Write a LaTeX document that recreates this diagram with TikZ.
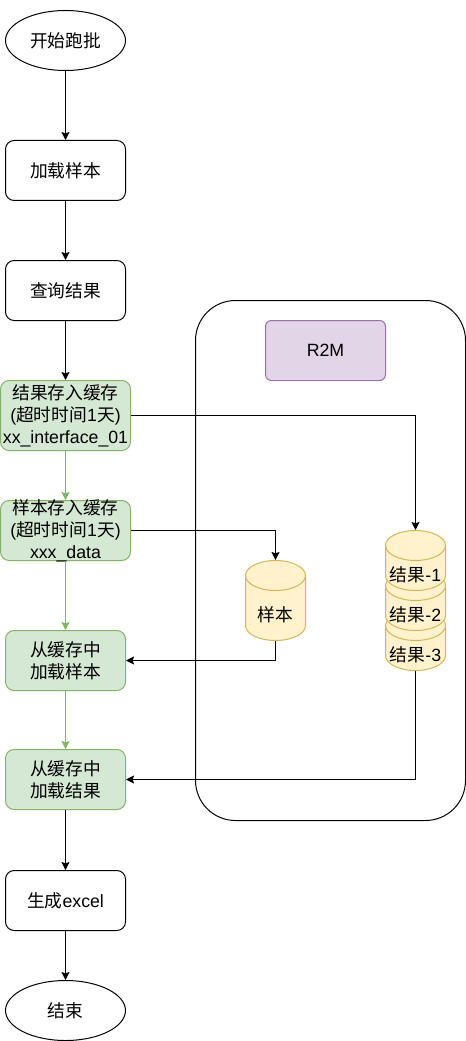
\documentclass[tikz,border=0pt]{standalone}
\usepackage{fontspec}
\usepackage{xcolor}
\usetikzlibrary{arrows.meta,shapes.geometric}
\setmainfont{Liberation Sans}
\newfontfamily\cjk{Noto Sans CJK SC}
\definecolor{greenfill}{HTML}{D5E8D4}
\definecolor{greenline}{HTML}{82B366}
\definecolor{yellowfill}{HTML}{FFF2CC}
\definecolor{yellowline}{HTML}{D6B656}
\definecolor{purplefill}{HTML}{E1D5E7}
\definecolor{purpleline}{HTML}{9673A6}
\tikzset{
  every node/.style={font=\fontsize{13.3}{16.5}\selectfont,align=center,inner sep=0pt},
  every label/.style={font=\fontsize{13.3}{16.5}\selectfont,align=center,inner sep=0pt},
  flowbox/.style={draw,fill=white,rounded corners=6.5pt,minimum width=90pt,minimum height=45pt},
  cachebox/.style={draw=greenline,fill=greenfill,rounded corners=6.5pt,minimum width=#1},
  terminal/.style={draw,fill=white,ellipse,minimum width=90pt,minimum height=45pt},
  store/.style={draw=yellowline,fill=yellowfill},
  conn/.style={-{Stealth[length=6pt,width=6pt,inset=1pt]}},
  conngreen/.style={conn,draw=greenline,fill=greenline}
}
% name, centre x, top y, bottom y, label
\newcommand{\storecyl}[5]{
\draw[store] (#2-30,#3+15) arc[start angle=180,end angle=360,x radius=30,y radius=15]
  -- (#2+30,#4-15) arc[start angle=0,end angle=180,x radius=30,y radius=15] -- cycle;
\draw[draw=yellowline] (#2-30,#3+15) arc[start angle=180,end angle=0,x radius=30,y radius=15];
\node[minimum width=45pt,minimum height={(#4-#3)*0.75pt}] (#1) at (#2,{(#3+#4)/2}) {};
\node (#1label) at (#2,{(#3+30+#4)/2-1}) {#5};
}
\begin{document}
\begin{tikzpicture}[x=0.75pt,y=-0.75pt,line width=0.75pt]
\useasboundingbox (0,0) rectangle (466,1041);
\node[draw,rounded corners=30pt,minimum width=202.5pt,minimum height=390pt] (pool) at (330.5,560.5) {};
\node[draw=purpleline,fill=purplefill,rounded corners=4.5pt,minimum width=90pt,minimum height=45pt] (r2m) at (325.5,350.5) {R2M};
\node[terminal] (start) at (65.5,40.5) {{\cjk 开始跑批}};
\node[flowbox] (load) at (65.5,170.5) {{\cjk 加载样本}};
\node[flowbox] (query) at (65.5,290.5) {{\cjk 查询结果}};
\node[cachebox=97.5pt,minimum height=52.5pt,label=center:{{\cjk 结果存入缓存}\\({\cjk 超时时间}1{\cjk 天})\\xx\_interface\_01}] (saveres) at (65.5,415.5) {};
\node[cachebox=97.5pt,minimum height=45pt,label=center:{{\cjk 样本存入缓存}\\({\cjk 超时时间}1{\cjk 天})\\xxx\_data}] (savesam) at (65.5,530.5) {};
\node[cachebox=90pt,minimum height=45pt] (readsam) at (65.5,660.5) {{\cjk 从缓存中}\\{\cjk 加载样本}};
\node[cachebox=90pt,minimum height=45pt] (readres) at (65.5,779.5) {{\cjk 从缓存中}\\{\cjk 加载结果}};
\node[flowbox] (excel) at (65.5,900.5) {{\cjk 生成}excel};
\node[terminal] (finish) at (65.5,1010.5) {{\cjk 结束}};
\storecyl{sample}{275.5}{560.5}{640.5}{{\cjk 样本}}
\storecyl{res3}{415.5}{610.5}{670.5}{{\cjk 结果}-3}
\storecyl{res2}{415.5}{570.5}{630.5}{{\cjk 结果}-2}
\storecyl{res1}{415.5}{530.5}{590.5}{{\cjk 结果}-1}
\draw[conn] (start) -- (load);
\draw[conn] (load) -- (query);
\draw[conn] (query) -- (saveres);
\draw[conngreen] (saveres) -- (savesam);
\draw[conngreen] (savesam) -- (readsam);
\draw[conngreen] (readsam) -- (readres);
\draw[conn] (readres) -- (excel);
\draw[conn] (excel) -- (finish);
\draw[conn] (saveres.east) -| (res1.north);
\draw[conn] (savesam.east) -| (sample.north);
\draw[conn] (sample.south) |- (readsam.east);
\draw[conn] (res3.south) |- (readres.east);
\end{tikzpicture}
\end{document}
